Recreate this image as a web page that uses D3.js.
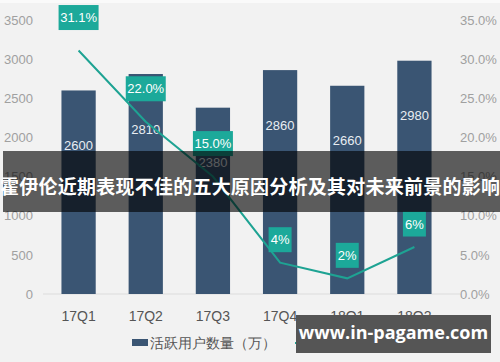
<!DOCTYPE html>
<html>
<head>
<meta charset="utf-8">
<script src="https://cdn.jsdelivr.net/npm/d3@7"></script>
<style>
  body { margin: 0; background: #fff; }
  svg { display: block; font-family: "Liberation Sans", Arial, sans-serif; }
</style>
</head>
<body>
<svg id="chart"></svg>
<script>
const quarters = ["17Q1", "17Q2", "17Q3", "17Q4", "18Q1", "18Q2"];
const users = [2600, 2810, 2380, 2860, 2660, 2980];
const growth = [31.1, 22.0, 15.0, 4, 2, 6];
const growthLabels = ["31.1%", "22.0%", "15.0%", "4%", "2%", "6%"];
const leftTicks = [0, 500, 1000, 1500, 2000, 2500, 3000, 3500];
const rightTicks = [0, 5, 10, 15, 20, 25, 30, 35];
const title = "霍伊伦近期表现不佳的五大原因分析及其对未来前景的影响";
const site = "www.in-pagame.com";

const width = 500, height = 362;
const margin = { top: 20, right: 52, bottom: 68, left: 45 };

const svg = d3.select("#chart").attr("width", width).attr("height", height);

svg.append("rect").attr("width", width).attr("height", height).attr("fill", "#f2f2f2");
svg.append("rect").attr("width", width).attr("height", 3).attr("fill", "#fafafa");

const x = d3.scaleBand()
    .domain(quarters)
    .range([margin.left, width - margin.right])
    .paddingInner(0.49)
    .paddingOuter(0.245);

const y = d3.scaleLinear().domain([0, 3500]).range([height - margin.bottom, margin.top]);
const y2 = d3.scaleLinear().domain([0, 35]).range([height - margin.bottom, margin.top]);

// baseline
svg.append("line")
    .attr("x1", 43).attr("x2", width - 40)
    .attr("y1", y(0)).attr("y2", y(0))
    .attr("stroke", "#dcdcdc");

// left axis
const leftAxis = svg.append("g")
    .attr("transform", `translate(${margin.left},0)`)
    .call(d3.axisLeft(y).tickValues(leftTicks).tickSize(0).tickPadding(12)
        .tickFormat(d3.format("d")));
leftAxis.select(".domain").remove();
leftAxis.selectAll("text").attr("fill", "#a0a0a0").style("font-size", "13px");

// right axis
const rightAxis = svg.append("g")
    .attr("transform", `translate(${width - 42},0)`)
    .call(d3.axisRight(y2).tickValues(rightTicks).tickSize(0).tickPadding(2)
        .tickFormat(d => d.toFixed(1) + "%"));
rightAxis.select(".domain").remove();
rightAxis.selectAll("text").attr("fill", "#a0a0a0").style("font-size", "13px");

// bottom axis
const bottomAxis = svg.append("g")
    .attr("transform", `translate(0,${y(0)})`)
    .call(d3.axisBottom(x).tickSize(0).tickPadding(17));
bottomAxis.select(".domain").remove();
bottomAxis.selectAll("text").attr("fill", "#555").style("font-size", "14px");

// bars
svg.selectAll(".bar")
    .data(users)
    .enter()
    .append("rect")
    .attr("class", "bar")
    .attr("x", (d, i) => x(quarters[i]))
    .attr("y", d => y(d))
    .attr("width", x.bandwidth())
    .attr("height", d => y(0) - y(d))
    .attr("fill", "#3a5573");

svg.selectAll(".bar-label")
    .data(users)
    .enter()
    .append("text")
    .attr("x", (d, i) => x(quarters[i]) + x.bandwidth() / 2)
    .attr("y", d => y(d) + 55)
    .attr("dy", ".35em")
    .attr("text-anchor", "middle")
    .attr("fill", "#e8edf2")
    .style("font-size", "13px")
    .text(d => d);

// growth line
const line = d3.line()
    .x((d, i) => x(quarters[i]) + x.bandwidth() / 2)
    .y(d => y2(d));

svg.append("path")
    .datum(growth)
    .attr("d", line)
    .attr("fill", "none")
    .attr("stroke", "#1ea393")
    .attr("stroke-width", 2);

const tags = svg.selectAll(".tag")
    .data(growth)
    .enter()
    .append("g")
    .attr("transform", (d, i) =>
        `translate(${x(quarters[i]) + x.bandwidth() / 2},${y2(d) - (d > 10 ? 33 : 23)})`);

tags.append("rect")
    .attr("x", (d, i) => growthLabels[i].length > 2 ? -20 : -11.5)
    .attr("y", -12.5)
    .attr("width", (d, i) => growthLabels[i].length > 2 ? 40 : 23)
    .attr("height", 25)
    .attr("fill", "#1ca99a");

tags.append("text")
    .attr("text-anchor", "middle")
    .attr("dy", ".36em")
    .attr("fill", "#fff")
    .style("font-size", "13px")
    .text((d, i) => growthLabels[i]);

// legend
const legend = svg.append("g").attr("transform", `translate(0,343)`);
legend.append("rect").attr("x", 132).attr("y", -4).attr("width", 16).attr("height", 7).attr("fill", "#3a5573");
legend.append("text").attr("x", 150).attr("dy", ".35em").attr("fill", "#555")
    .style("font-size", "14px").text("活跃用户数量（万）");
legend.append("line").attr("x1", 295).attr("x2", 316).attr("y1", 0).attr("y2", 0)
    .attr("stroke", "#1ea393").attr("stroke-width", 2);
legend.append("text").attr("x", 318).attr("dy", ".35em").attr("fill", "#555")
    .style("font-size", "14px").text("同比增幅");

// title banner
svg.append("rect").attr("x", 3).attr("y", 151).attr("width", width - 3).attr("height", 61)
    .attr("fill", "rgba(0,0,0,0.62)");
svg.append("text")
    .attr("x", width / 2).attr("y", 187)
    .attr("text-anchor", "middle")
    .attr("dy", ".35em")
    .attr("fill", "#fff")
    .style("font-family", "'Noto Sans CJK SC', sans-serif")
    .style("font-weight", "bold")
    .style("font-size", "19px")
    .attr("textLength", 500)
    .text(title);

// site banner
svg.append("rect").attr("x", 296).attr("y", 315).attr("width", 195).attr("height", 38)
    .attr("fill", "#555555");
svg.append("text")
    .attr("x", 393.5).attr("y", 333)
    .attr("text-anchor", "middle")
    .attr("dy", ".35em")
    .attr("fill", "#fff")
    .style("font-family", "'Open Sans', sans-serif")
    .style("font-weight", "bold")
    .style("font-size", "18px")
    .text(site);
</script>
</body>
</html>
